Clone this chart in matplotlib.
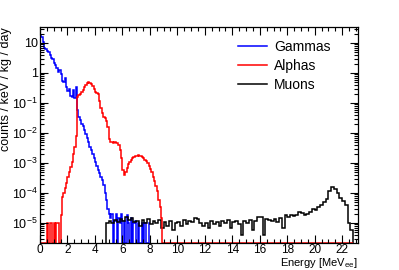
import numpy as np
import matplotlib
matplotlib.use("Agg")
import matplotlib.pyplot as plt
from matplotlib.lines import Line2D
from matplotlib.ticker import LogLocator, MultipleLocator, FixedLocator, FuncFormatter

plt.rcParams["font.family"] = ["Liberation Sans", "DejaVu Sans"]
plt.rcParams["mathtext.fontset"] = "custom"
plt.rcParams["mathtext.rm"] = "Liberation Sans"
plt.rcParams["mathtext.it"] = "Liberation Sans:italic"

# histogram bins (MeV)
gamma_start, gamma_width = 0.0, 0.1
alpha_start, alpha_width = 0.0, 0.1
muon_start, muon_width = 4.8, 0.2

# counts / keV / kg / day
gammas = [19, 16, 11, 7, 6.5, 5.5, 5, 4, 3.2, 3,
          2.2, 1.9, 1.5, 1.1, 1.3, 0.9, 0.55, 0.5, 0.7, 0.35,
          0.26, 0.3, 0.17, 0.16, 0.28, 0.15, 0.33, 0.06, 0.035, 0.027,
          0.02, 0.017, 0.013, 0.009, 0.007, 0.005, 0.0035, 0.0028, 0.002, 0.0015,
          1.1e-3, 8e-4, 6e-4, 4.5e-4, 3.5e-4, 2.8e-4, 1.8e-4, 1e-4, 6e-5, 3e-5,
          2e-5, 1.5e-5, 2e-5, 0, 1.2e-5, 2e-5, 0, 1.5e-5, 1e-5, 2e-5,
          0, 1.2e-5, 0, 1.8e-5, 1e-5, 0, 1.5e-5, 0, 1e-5, 1.2e-5,
          0, 1e-5, 0, 0, 1e-5, 0, 1e-5, 0, 0, 1e-5]

alphas = [0, 0, 0, 0, 0, 1e-5, 0, 1e-5, 1e-5, 0,
          1e-5, 0, 1e-5, 1e-5, 0, 1.9e-5, 7.6e-5, 1e-4, 1.5e-4, 2.2e-4,
          3.5e-4, 5e-4, 7.5e-4, 1.1e-3, 2e-3, 3.5e-3, 8e-3, 0.16, 0.18, 0.2,
          0.24, 0.28, 0.35, 0.4, 0.45, 0.5, 0.48, 0.42, 0.38, 0.3,
          0.24, 0.21, 0.2, 0.12, 0.07, 0.045, 0.035, 0.031, 0.025, 0.016,
          6.5e-3, 5e-3, 5e-3, 4.8e-3, 5e-3, 4.6e-3, 4.5e-3, 4e-3, 2.8e-3, 1.5e-3,
          6e-4, 4e-4, 5e-4, 7e-4, 9e-4, 1.1e-3, 1.3e-3, 1.45e-3, 1.6e-3, 1.7e-3,
          1.75e-3, 1.8e-3, 1.75e-3, 1.7e-3, 1.6e-3, 1.5e-3, 1.3e-3, 1.15e-3, 1e-3, 8e-4,
          6.5e-4, 5e-4, 3.5e-4, 2.5e-4, 1.7e-4, 1.2e-4, 6e-5, 3.5e-5, 1.5e-5, 0]
alphas_empty = [0.0] * 138  # empty bins 9.0 - 22.8 MeV

muons = [1e-5, 1.2e-5, 1e-5, 1.3e-5, 1.1e-5, 1.4e-5, 1.2e-5, 1.6e-5, 1.3e-5, 1.5e-5,
         1.1e-5, 1.2e-5, 8e-6, 1.3e-5, 1e-5, 1.4e-5, 9e-6, 1.2e-5, 1e-5, 1.3e-5,
         7e-6, 1.1e-5, 8e-6, 1.2e-5, 6e-6, 1e-5, 1.1e-5, 8e-6, 1.3e-5, 9e-6,
         1.2e-5, 1.1e-5, 1.5e-5, 1.4e-5, 1e-5, 8e-6, 1e-5, 7e-6, 1.2e-5, 9e-6,
         1.1e-5, 8e-6, 1.2e-5, 1e-5, 1.3e-5, 7e-6, 1.1e-5, 1.2e-5, 9e-6, 4e-6,
         1.2e-5, 1e-5, 1.3e-5, 6e-6, 1.2e-5, 1.6e-5, 1.6e-5, 4e-6, 1.4e-5, 1.3e-5,
         1.2e-5, 1.4e-5, 1.1e-5, 1.5e-5, 7e-6, 1.8e-5, 1.6e-5, 1.9e-5, 1.7e-5, 1.9e-5,
         2.3e-5, 2.2e-5, 1.8e-5, 2e-5, 2.4e-5, 3e-5, 2.8e-5, 3.3e-5, 4e-5, 5e-5,
         6.5e-5, 1.2e-4, 1.6e-4, 1.4e-4, 1e-4, 7e-5, 5.5e-5, 4e-5, 1e-5, 6e-6]

labels = ["Gammas", "Alphas", "Muons"]
colors = ["#0000ff", "#ff0000", "#000000"]

ymin, ymax = 2.15e-6, 34
xmin, xmax = 0, 23.15


def edges(start, width, n):
    return start + width * np.arange(n + 1)


fig = plt.figure(figsize=(3.99, 2.70), dpi=100)
ax = fig.add_axes([40 / 399, 1 - 243 / 270, 318 / 399, 216 / 270])

g = np.array(gammas, dtype=float)
a = np.array(alphas + alphas_empty, dtype=float)
m = np.array(muons, dtype=float)

# empty bins sit on the bottom of the frame, like ROOT does
lw = 1.1
ax.stairs(np.maximum(g, ymin), edges(gamma_start, gamma_width, len(g)),
          color=colors[0], lw=lw, baseline=None)
ax.stairs(np.maximum(m, ymin), edges(muon_start, muon_width, len(m)),
          color=colors[2], lw=lw, baseline=ymin)
ax.stairs(np.maximum(a, ymin), edges(alpha_start, alpha_width, len(a)),
          color=colors[1], lw=lw, baseline=None)

ax.set_yscale("log")
ax.set_xlim(xmin, xmax)
ax.set_ylim(ymin, ymax)

ax.xaxis.set_major_locator(MultipleLocator(2))
ax.xaxis.set_minor_locator(MultipleLocator(0.5))
ax.yaxis.set_major_locator(FixedLocator([1e-5, 1e-4, 1e-3, 1e-2, 1e-1, 1, 10]))
ax.yaxis.set_minor_locator(LogLocator(base=10, subs=np.arange(2, 10), numticks=20))


def ylab(v, pos):
    if v == 1:
        return "1"
    if v == 10:
        return "10"
    return r"$10^{%d}$" % int(round(np.log10(v)))


ax.yaxis.set_major_formatter(FuncFormatter(ylab))
ax.yaxis.set_minor_formatter(FuncFormatter(lambda v, p: ""))

ax.tick_params(which="both", direction="in", top=True, right=True, width=0.8,
               labelsize=9)
ax.tick_params(axis="x", labelsize=8.5, pad=0.5)
ax.tick_params(axis="y", pad=1.5)
ax.tick_params(which="major", length=6)
ax.tick_params(which="minor", length=3)
for s in ax.spines.values():
    s.set_linewidth(0.9)

ax.set_xlabel(r"Energy [MeV$_{\mathrm{ee}}$]", fontsize=8, ha="right", va="bottom")
ax.xaxis.set_label_coords(1.0, -0.124)
ax.set_ylabel("counts / keV / kg / day", fontsize=9, ha="right")
ax.yaxis.set_label_coords(-0.088, 1.0)

handles = [Line2D([], [], color=c, lw=lw) for c in colors]
fig.legend(handles, labels, loc="upper left", bbox_to_anchor=(238 / 399, 1 - 40 / 270),
           frameon=False, fontsize=10, handlelength=2.1, handletextpad=0.5,
           labelspacing=0.35, borderpad=0, borderaxespad=0)

fig.savefig("out.png", dpi=100)
